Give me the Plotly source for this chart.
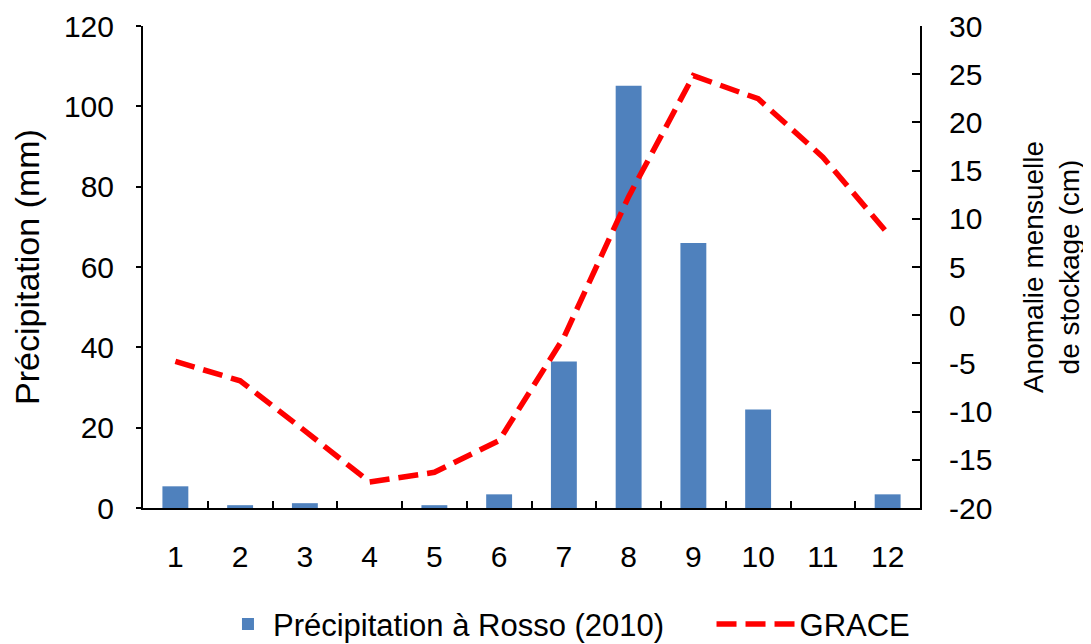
import plotly.graph_objects as go

months = ["1", "2", "3", "4", "5", "6", "7", "8", "9", "10", "11", "12"]
precip = [5.4, 0.7, 1.2, 0, 0.7, 3.4, 36.5, 105.1, 66.0, 24.5, 0, 3.4]
grace = [-4.8, -6.8, -12.0, -17.3, -16.3, -13.0, -2.3, 12.3, 24.85, 22.45, 16.4, 8.5]

left_ticks = [0, 20, 40, 60, 80, 100, 120]
right_ticks = [-20, -15, -10, -5, 0, 5, 10, 15, 20, 25, 30]
right_labels = [str(v) for v in right_ticks]

FONT = "Arial, Liberation Sans, sans-serif"
fs = 30

# page body has an 8px default margin, so the figure is sized to fit the 1091x644 window
W, H = 1083, 636

fig = go.Figure()
fig.add_trace(go.Bar(
    x=months, y=precip, name="Précipitation à Rosso (2010)",
    marker=dict(color="#4F81BD", line=dict(width=0)),
    yaxis="y", legend="legend",
))
fig.add_trace(go.Scatter(
    x=months, y=grace, name="GRACE", mode="lines",
    line=dict(color="#FF0000", width=5.5, dash="20px,9px"),
    yaxis="y2", legend="legend2",
))

fig.update_layout(
    width=W, height=H,
    margin=dict(l=135, r=171, t=18, b=136, autoexpand=False),
    paper_bgcolor="white", plot_bgcolor="white",
    font=dict(family=FONT, size=fs, color="black"),
    bargap=0.6,
    showlegend=True,
    legend=dict(orientation="h", xref="container", yref="container",
                x=0.1985, xanchor="left", y=0.031, yanchor="middle",
                font=dict(size=31), itemwidth=40),
    legend2=dict(orientation="h", xref="container", yref="container",
                 x=0.6496, xanchor="left", y=0.031, yanchor="middle",
                 font=dict(size=31), itemwidth=78),
    xaxis=dict(
        type="category", showline=True, linecolor="black", linewidth=2,
        ticks="inside", tickson="boundaries", ticklen=7, tickwidth=2, tickcolor="black",
        showgrid=False, ticklabelstandoff=21, tickfont=dict(size=fs), automargin=False,
    ),
    yaxis=dict(
        range=[0, 120], tickvals=left_ticks, showline=True, linecolor="black", linewidth=2,
        ticks="outside", ticklen=5, tickwidth=2, tickcolor="black", showgrid=False,
        zeroline=False, ticklabelstandoff=16, tickfont=dict(size=fs), automargin=False,
        title=dict(text="Précipitation (mm)", font=dict(size=34), standoff=15),
    ),
    yaxis2=dict(
        range=[-20, 30], tickvals=right_ticks, ticktext=right_labels, overlaying="y", side="right",
        showline=True, linecolor="black", linewidth=2, automargin=False,
        ticks="inside", ticklen=8, tickwidth=2, tickcolor="black", showgrid=False,
        zeroline=False, ticklabelstandoff=21, tickfont=dict(size=fs),
        title=dict(text="Anomalie mensuelle<br>de stockage (cm)", font=dict(size=28), standoff=32),
    ),
)

fig.write_html("out.html")
